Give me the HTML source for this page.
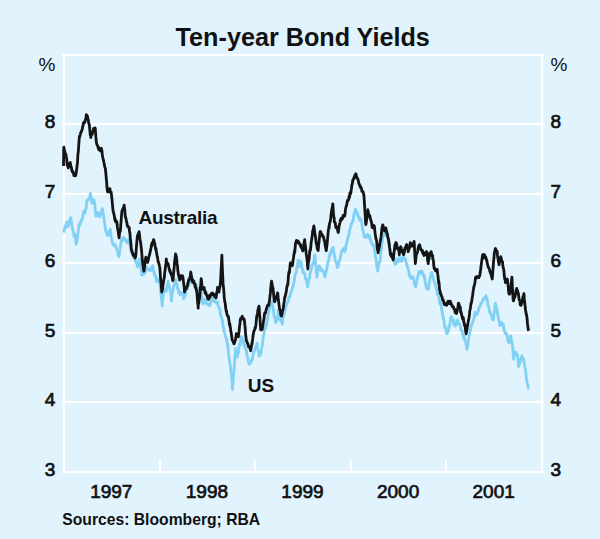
<!DOCTYPE html>
<html><head><meta charset="utf-8"><style>
html,body{margin:0;padding:0;background:#e1f3fd;}
body{width:600px;height:539px;overflow:hidden;position:relative;}
svg{position:absolute;left:0;top:0;}
text{font-family:"Liberation Sans",Arial,sans-serif;fill:#111;}
.n{stroke:#111;stroke-width:0.7px;}
</style></head><body>
<svg width="600" height="539" viewBox="0 0 600 539">
<rect x="0" y="0" width="600" height="539" fill="#e1f3fd"/>
<g fill="#fff">
<rect x="62" y="54" width="482" height="2"/>
<rect x="62" y="123" width="482" height="2"/>
<rect x="62" y="193" width="482" height="2"/>
<rect x="62" y="262" width="482" height="2"/>
<rect x="62" y="332" width="482" height="2"/>
<rect x="62" y="401" width="482" height="2"/>
<rect x="62" y="471" width="482" height="2"/>
<rect x="63" y="54" width="2" height="419"/>
<rect x="541" y="54" width="2" height="419"/>
<rect x="159" y="460" width="2" height="12"/>
<rect x="254" y="460" width="2" height="12"/>
<rect x="350" y="460" width="2" height="12"/>
<rect x="445" y="460" width="2" height="12"/>
</g>
<polyline points="63.7,232.5 63.7,232.5 64.1,230.8 64.5,229.4 64.9,226.1 65.2,228.0 65.3,228.0 65.7,227.3 66.1,224.7 66.5,223.7 66.7,222.0 66.9,223.4 67.3,223.6 67.7,225.9 68.1,226.3 68.2,226.5 68.5,225.0 68.9,222.6 69.3,221.9 69.6,220.6 69.7,220.2 70.1,219.7 70.5,217.8 70.7,217.6 70.9,218.8 71.3,220.4 71.7,224.1 71.9,225.0 72.1,226.4 72.5,228.5 72.9,230.7 73.3,231.3 73.4,232.5 73.7,233.6 74.1,236.2 74.5,234.3 74.8,235.4 74.9,234.2 75.3,236.6 75.7,241.7 76.0,244.3 76.1,243.7 76.5,242.9 76.9,241.2 77.3,238.8 77.5,237.0 77.7,236.1 78.1,232.4 78.5,230.0 78.9,225.1 79.0,225.0 79.3,223.8 79.7,223.7 80.1,224.9 80.5,222.6 80.8,222.0 80.9,220.8 81.3,219.9 81.7,220.6 82.1,219.4 82.3,219.0 82.5,219.3 82.9,214.7 83.3,214.3 83.7,211.7 83.7,213.0 84.1,210.9 84.5,211.5 84.9,212.8 85.2,211.7 85.3,211.6 85.7,209.6 86.1,208.5 86.5,204.5 86.7,201.3 86.9,201.7 87.3,200.2 87.7,200.7 88.1,199.9 88.2,199.8 88.5,199.2 88.9,198.6 89.3,198.7 89.7,197.6 89.7,196.8 90.1,195.2 90.5,193.2 90.9,196.1 90.9,195.6 91.3,198.6 91.7,202.9 91.9,202.8 92.1,203.1 92.5,201.2 92.9,201.1 93.3,200.1 93.4,199.8 93.7,199.5 94.1,200.4 94.5,204.1 94.9,204.3 94.9,205.2 95.3,209.9 95.7,214.0 95.9,216.2 96.1,215.3 96.5,215.8 96.9,214.8 97.3,213.3 97.7,212.9 97.8,213.2 98.1,212.5 98.5,213.8 98.9,215.6 99.3,214.9 99.7,217.0 100.0,216.2 100.1,215.8 100.5,214.7 100.9,212.5 101.3,211.4 101.7,210.4 102.1,208.8 102.3,208.7 102.5,209.1 102.9,211.6 103.3,214.2 103.7,216.0 103.8,219.0 104.1,219.1 104.5,222.2 104.9,225.3 105.3,226.5 105.3,227.5 105.7,231.2 106.1,231.7 106.5,232.1 106.7,232.5 106.9,235.0 107.3,233.7 107.7,235.4 108.1,234.7 108.2,235.4 108.5,234.7 108.9,231.6 109.3,232.4 109.7,231.2 110.1,229.2 110.4,229.5 110.5,231.4 110.9,234.8 111.3,237.4 111.7,239.4 111.9,241.4 112.1,241.5 112.5,242.3 112.9,243.9 113.3,245.2 113.7,244.7 114.1,245.0 114.2,245.8 114.5,245.2 114.9,244.5 115.3,245.1 115.7,246.0 116.1,247.4 116.4,247.3 116.5,249.2 116.9,249.5 117.0,250.0 117.3,251.4 117.7,251.9 118.1,255.2 118.5,255.4 118.9,256.6 119.1,256.2 119.3,254.3 119.7,250.9 120.1,248.8 120.5,245.7 120.9,243.5 121.1,242.0 121.3,240.1 121.7,240.7 122.1,239.1 122.5,240.5 122.9,238.8 123.2,237.9 123.3,239.3 123.7,237.7 124.1,238.9 124.5,238.4 124.9,238.8 125.2,240.0 125.3,239.7 125.7,240.0 126.1,240.9 126.5,242.0 126.9,242.7 127.2,242.0 127.3,242.4 127.7,240.8 128.1,240.6 128.5,241.1 128.9,239.4 129.3,242.0 129.3,241.5 129.7,243.5 130.1,245.5 130.5,248.7 130.9,251.0 131.3,252.0 131.3,252.7 131.7,252.2 132.1,253.6 132.5,254.7 132.9,254.5 133.3,256.7 133.4,256.2 133.7,257.7 134.1,256.1 134.5,257.8 134.9,257.7 135.3,260.4 135.4,260.3 135.7,262.2 136.1,261.8 136.5,262.5 136.9,264.4 137.3,265.6 137.4,266.4 137.7,266.8 138.1,265.7 138.5,263.6 138.9,262.8 139.3,259.2 139.5,260.3 139.7,261.0 140.1,264.6 140.5,266.6 140.9,268.3 141.3,271.6 141.5,272.6 141.7,274.9 142.1,274.4 142.5,273.1 142.9,275.1 143.3,273.0 143.6,274.6 143.7,274.3 144.1,272.9 144.5,273.4 144.9,271.4 145.3,272.2 145.6,270.5 145.7,271.2 146.1,268.7 146.5,267.0 146.9,267.6 147.3,269.4 147.7,268.5 147.7,268.9 148.1,269.0 148.5,268.9 148.9,270.0 149.3,270.3 149.7,270.4 150.0,270.0 150.1,269.2 150.5,270.1 150.9,270.4 151.3,267.5 151.7,269.4 152.1,268.4 152.5,266.0 152.5,266.4 152.9,266.1 153.3,269.4 153.7,271.9 154.1,272.8 154.5,275.0 154.5,273.0 154.9,275.7 155.3,275.7 155.7,276.1 156.1,279.9 156.5,278.0 156.5,281.4 156.9,281.4 157.3,280.5 157.7,281.5 158.0,281.0 158.1,279.5 158.5,281.2 158.9,281.7 159.3,281.7 159.7,281.9 159.9,284.8 160.1,285.9 160.5,290.1 160.9,294.0 161.3,298.6 161.7,301.0 162.1,303.6 162.2,306.0 162.5,300.7 162.9,297.8 163.3,295.6 163.7,291.7 164.0,289.0 164.1,289.7 164.5,288.6 164.9,289.0 165.3,289.1 165.7,288.8 166.0,291.0 166.1,291.5 166.5,290.4 166.9,287.4 167.3,285.1 167.7,283.9 168.1,282.8 168.1,281.1 168.5,284.0 168.9,284.6 169.3,286.6 169.7,287.8 170.1,291.0 170.1,289.7 170.5,291.8 170.9,294.0 171.3,297.2 171.5,300.8 171.7,297.4 172.1,294.9 172.5,292.4 172.9,291.0 173.0,289.0 173.3,289.2 173.7,286.7 174.1,285.6 174.5,283.0 174.5,282.8 174.9,283.5 175.3,282.5 175.7,279.7 175.9,280.0 176.1,281.6 176.5,284.6 176.9,283.8 177.3,286.6 177.4,289.0 177.7,288.5 178.1,288.4 178.5,289.8 178.9,293.4 178.9,291.3 179.3,292.5 179.7,292.7 180.1,294.9 180.4,292.0 180.5,293.0 180.9,294.1 181.3,293.7 181.7,293.9 181.9,293.4 182.1,293.2 182.5,292.9 182.9,294.5 183.3,297.4 183.4,297.9 183.7,298.8 184.1,297.8 184.5,296.8 184.8,295.0 184.9,294.4 185.3,294.9 185.7,294.3 186.1,291.5 186.3,290.4 186.5,290.0 186.9,287.7 187.3,288.5 187.7,287.2 187.8,286.0 188.1,285.8 188.5,285.2 188.9,284.5 189.3,283.0 189.3,283.0 189.7,281.3 190.1,280.3 190.5,279.1 190.8,281.5 190.9,280.5 191.3,282.8 191.7,279.8 192.1,279.9 192.3,280.0 192.5,280.7 192.9,280.4 193.3,281.9 193.7,283.0 193.7,281.8 194.1,284.0 194.5,283.5 194.9,284.2 195.2,284.5 195.3,285.4 195.7,285.4 196.1,284.5 196.5,285.6 196.7,287.5 196.9,287.9 197.3,288.6 197.7,289.6 198.1,289.2 198.2,290.4 198.5,289.5 198.9,289.6 199.3,288.6 199.7,287.5 199.7,289.6 200.1,289.9 200.5,290.0 200.9,290.3 201.2,293.4 201.3,294.2 201.7,296.6 202.1,300.2 202.5,302.6 202.6,302.3 202.9,303.8 203.3,303.2 203.7,300.9 204.1,299.3 204.1,300.0 204.5,301.1 204.9,299.6 205.3,301.7 205.6,300.8 205.7,302.8 206.1,303.7 206.5,303.3 206.9,304.1 207.1,303.8 207.3,303.2 207.7,304.1 208.1,304.0 208.5,304.9 208.6,305.3 208.9,304.4 209.3,304.6 209.7,305.4 210.1,303.8 210.1,303.1 210.5,303.5 210.9,300.4 211.3,298.2 211.5,300.8 211.7,299.0 212.1,299.4 212.5,299.8 212.9,297.8 213.0,299.3 213.3,298.7 213.7,299.7 214.1,301.5 214.5,300.8 214.5,301.2 214.9,302.0 215.3,301.0 215.7,301.5 216.0,302.3 216.1,301.7 216.5,303.0 216.9,302.1 217.3,302.0 217.7,303.4 217.9,303.6 218.1,306.0 218.5,306.6 218.9,307.5 219.3,307.9 219.7,310.1 219.9,309.5 220.1,311.6 220.5,314.9 220.9,316.1 221.3,316.4 221.7,318.0 221.8,319.2 222.1,319.3 222.5,320.7 222.9,324.9 223.3,327.5 223.7,327.8 223.8,329.0 224.1,331.6 224.5,332.8 224.9,333.0 225.3,335.3 225.7,336.8 225.7,336.8 226.1,338.0 226.5,338.4 226.9,341.5 227.3,344.3 227.7,346.5 227.7,343.8 228.1,349.0 228.5,353.2 228.9,355.9 229.3,359.5 229.6,362.0 229.7,362.4 230.1,364.5 230.5,367.4 230.9,371.9 231.3,372.7 231.6,375.8 231.7,377.1 232.1,383.4 232.5,389.4 232.5,388.7 232.9,383.6 233.3,377.6 233.7,372.7 233.9,371.9 234.1,368.1 234.5,363.0 234.9,356.3 235.3,354.0 235.5,348.5 235.7,350.0 236.1,351.5 236.5,352.6 236.9,353.9 237.3,357.0 237.4,356.3 237.7,354.6 238.1,353.6 238.5,351.7 238.9,347.4 239.3,346.2 239.4,344.6 239.7,343.5 240.1,345.1 240.5,342.1 240.9,339.5 241.3,338.7 241.3,336.6 241.7,337.1 242.1,338.5 242.5,339.2 242.9,339.7 243.3,342.6 243.3,340.8 243.7,342.7 244.1,346.0 244.5,345.1 244.9,346.4 245.2,348.5 245.3,347.3 245.7,348.2 246.1,349.6 246.5,351.5 246.9,354.8 247.2,356.3 247.3,356.3 247.7,357.6 248.1,360.2 248.5,362.0 248.9,363.2 249.1,364.0 249.3,364.2 249.7,362.8 250.1,363.3 250.5,363.2 250.9,362.1 251.1,362.0 251.3,359.9 251.7,360.4 252.1,358.4 252.5,359.5 252.9,355.6 253.3,354.3 253.4,352.5 253.7,352.2 254.1,351.5 254.5,351.4 254.9,349.3 255.3,348.8 255.3,348.6 255.7,347.6 256.1,346.4 256.5,345.7 256.9,345.2 257.1,343.2 257.3,346.1 257.7,348.3 258.1,350.2 258.5,351.7 258.9,354.3 259.0,356.2 259.3,354.7 259.7,355.6 260.1,354.8 260.5,353.3 260.8,354.4 260.9,353.7 261.3,350.6 261.7,347.9 262.1,345.9 262.5,344.4 262.7,343.2 262.9,339.4 263.3,336.6 263.7,335.1 264.1,332.3 264.5,330.3 264.5,329.0 264.9,327.9 265.3,328.7 265.7,326.7 266.1,326.3 266.4,324.7 266.5,325.3 266.9,322.2 267.3,320.6 267.7,317.8 268.1,315.2 268.2,315.4 268.5,312.4 268.9,312.1 269.3,309.6 269.7,307.3 270.1,306.0 270.1,304.5 270.5,306.3 270.9,305.7 271.3,304.1 271.7,302.4 271.9,302.4 272.1,301.8 272.5,305.3 272.9,308.2 273.3,309.2 273.7,313.4 273.8,313.5 274.1,316.0 274.5,316.5 274.9,318.1 275.3,320.0 275.7,322.8 275.7,322.6 276.1,321.3 276.5,318.6 276.9,319.7 277.3,318.5 277.5,317.3 277.7,316.7 278.1,312.9 278.2,309.8 278.5,312.1 278.9,314.1 279.3,316.5 279.7,318.8 280.1,320.0 280.2,320.0 280.5,320.2 280.9,321.3 281.3,321.3 281.7,322.0 282.1,321.3 282.2,324.0 282.5,321.1 282.9,318.3 283.3,316.2 283.7,314.6 284.1,312.9 284.3,311.8 284.5,313.1 284.9,311.1 285.3,307.9 285.7,307.2 286.1,305.6 286.3,305.7 286.5,305.3 286.9,303.9 287.3,302.7 287.7,301.9 288.1,301.0 288.4,301.6 288.5,298.8 288.9,297.7 289.3,297.0 289.7,297.1 290.1,294.8 290.4,293.5 290.5,292.9 290.9,292.4 291.3,291.5 291.7,291.4 292.1,289.8 292.4,287.3 292.5,287.7 292.9,287.1 293.3,286.2 293.7,283.0 294.1,281.3 294.5,279.2 294.5,277.8 294.9,276.5 295.3,274.5 295.7,273.4 296.1,271.7 296.5,271.0 296.5,270.4 296.9,268.0 297.3,266.1 297.7,263.6 298.1,260.3 298.2,260.0 298.5,259.9 298.9,263.7 299.3,266.7 299.5,266.0 299.7,265.9 300.1,265.4 300.5,262.5 300.8,263.0 300.9,261.3 301.3,263.7 301.7,267.5 302.1,267.7 302.5,268.8 302.9,272.6 303.0,272.0 303.3,270.9 303.7,272.7 304.1,273.6 304.5,273.5 304.9,274.1 305.0,274.0 305.3,278.3 305.7,277.9 306.1,279.5 306.5,281.5 306.9,283.0 307.3,284.2 307.5,287.0 307.7,286.8 308.1,284.9 308.5,281.0 308.9,279.3 309.3,278.6 309.5,278.0 309.7,277.2 310.1,273.5 310.5,271.9 310.8,271.0 310.9,270.5 311.3,269.4 311.7,268.1 312.1,264.4 312.5,265.5 312.9,262.9 312.9,263.6 313.3,263.4 313.7,263.6 314.1,259.8 314.5,256.0 314.9,254.7 314.9,255.4 315.3,259.3 315.7,263.3 316.1,266.9 316.5,273.7 316.9,277.1 316.9,277.2 317.3,273.8 317.7,272.1 318.1,269.6 318.5,268.7 318.9,266.7 319.0,267.0 319.3,265.9 319.7,267.6 320.1,267.4 320.5,268.9 320.9,270.3 321.0,269.0 321.3,269.6 321.7,269.2 322.1,270.0 322.5,271.3 322.9,271.2 323.1,271.0 323.3,272.0 323.7,273.0 324.1,274.4 324.5,276.1 324.9,276.2 325.1,277.1 325.3,275.5 325.7,273.8 326.1,271.2 326.5,269.8 326.9,268.4 327.1,267.0 327.3,266.2 327.7,263.5 328.1,261.1 328.5,261.4 328.9,259.7 329.2,256.7 329.3,256.0 329.7,254.1 330.1,255.2 330.5,254.8 330.9,252.6 331.1,250.7 331.3,252.3 331.7,249.5 332.1,249.4 332.5,250.0 332.9,247.4 333.2,248.7 333.3,247.6 333.7,251.3 334.1,254.4 334.5,255.3 334.9,257.6 335.2,258.9 335.3,261.0 335.7,261.4 336.1,261.5 336.5,263.6 336.9,265.1 337.2,267.0 337.3,267.7 337.7,266.2 338.1,263.9 338.5,265.4 338.9,262.6 339.3,260.9 339.3,261.7 339.7,260.3 340.1,259.0 340.5,256.9 340.9,255.4 341.3,252.8 341.3,253.2 341.7,250.8 342.1,250.4 342.5,249.8 342.9,249.2 343.3,248.8 343.4,248.7 343.7,248.3 344.1,250.4 344.5,251.9 344.9,249.0 345.3,250.0 345.4,250.7 345.7,248.2 346.1,244.0 346.5,243.9 346.9,241.9 347.3,240.0 347.4,240.5 347.7,237.9 348.1,237.6 348.5,236.7 348.9,234.2 349.3,232.5 349.5,230.3 349.7,230.2 350.1,228.9 350.5,226.7 350.9,225.8 351.3,224.0 351.5,224.2 351.7,223.4 352.1,222.7 352.5,221.0 352.9,220.3 353.3,220.6 353.6,216.0 353.7,215.3 354.1,214.3 354.5,212.6 354.9,211.3 355.3,209.1 355.6,209.9 355.7,209.4 356.1,210.7 356.5,211.5 356.9,212.9 357.3,213.9 357.7,216.0 357.7,213.2 358.1,216.5 358.5,217.2 358.9,217.3 359.3,219.0 359.7,220.1 359.7,219.3 360.1,217.9 360.5,220.5 360.9,219.4 361.3,220.5 361.7,222.1 361.7,221.6 362.1,225.6 362.5,228.5 362.9,230.2 363.3,231.2 363.7,233.3 363.8,234.4 364.1,235.5 364.5,237.3 364.9,237.1 365.3,236.1 365.7,237.4 365.8,236.4 366.1,236.3 366.5,235.4 366.9,234.9 367.3,235.3 367.7,235.1 367.9,234.4 368.1,236.0 368.5,237.5 368.9,237.9 369.3,235.7 369.7,235.6 369.9,238.5 370.1,237.8 370.5,239.1 370.9,242.4 371.3,242.2 371.7,242.4 371.9,242.5 372.1,244.0 372.5,245.3 372.9,245.0 373.3,246.0 373.7,245.3 374.0,246.6 374.1,245.9 374.5,250.2 374.9,251.0 375.3,255.0 375.7,257.9 376.0,258.9 376.1,260.8 376.5,264.0 376.9,266.7 377.3,266.7 377.7,271.1 377.7,269.4 378.1,267.3 378.5,266.6 378.9,263.1 379.1,263.0 379.3,261.6 379.7,261.4 380.0,262.0 380.1,261.8 380.5,256.1 380.9,251.3 381.3,249.0 381.5,247.3 381.7,243.6 382.1,242.3 382.5,239.5 382.9,235.6 383.0,236.9 383.3,234.9 383.7,233.8 384.1,234.0 384.5,233.9 384.5,233.9 384.9,235.4 385.3,234.6 385.7,234.4 385.9,233.9 386.1,233.6 386.5,233.7 386.9,234.9 387.3,232.5 387.4,233.9 387.7,235.6 388.1,237.5 388.5,240.2 388.9,242.8 388.9,243.0 389.3,246.1 389.7,248.3 390.1,249.9 390.4,251.7 390.5,252.2 390.9,252.9 391.3,253.4 391.7,254.4 391.9,254.7 392.1,256.2 392.5,257.1 392.9,258.1 393.3,257.7 393.4,259.1 393.7,259.4 394.1,259.2 394.5,262.3 394.8,263.6 394.9,262.2 395.3,262.8 395.7,264.3 396.1,261.0 396.3,259.1 396.5,261.5 396.9,261.6 397.3,261.2 397.7,261.0 397.8,262.0 398.1,261.3 398.5,261.4 398.9,259.9 399.3,257.6 399.3,256.6 399.7,256.9 400.1,258.2 400.5,260.9 400.8,260.6 400.9,261.2 401.3,260.8 401.7,261.3 402.1,259.9 402.3,259.1 402.5,259.1 402.9,258.4 403.3,256.2 403.7,257.6 403.7,257.2 404.1,258.2 404.5,259.5 404.9,258.1 405.2,259.1 405.3,258.3 405.7,261.0 406.1,262.3 406.5,264.6 406.7,263.6 406.9,264.3 407.3,266.1 407.7,266.9 408.1,269.1 408.2,269.5 408.5,270.2 408.9,272.6 409.3,275.1 409.7,275.4 409.7,276.7 410.1,275.0 410.5,277.4 410.9,278.4 411.2,278.4 411.3,277.6 411.7,276.6 412.1,276.8 412.5,277.3 412.6,276.9 412.9,277.5 413.3,277.2 413.7,279.6 414.1,281.4 414.1,281.3 414.5,284.5 414.9,282.8 415.3,286.2 415.6,284.3 415.7,286.9 416.1,284.1 416.5,283.3 416.9,280.6 417.1,278.4 417.3,279.5 417.7,276.7 418.1,275.6 418.5,273.3 418.6,274.0 418.9,271.6 419.3,272.0 419.7,271.6 420.1,272.5 420.1,272.4 420.5,273.3 420.9,272.1 421.3,271.5 421.5,271.0 421.7,271.9 422.1,271.2 422.5,273.4 422.9,274.9 423.0,275.4 423.3,275.8 423.7,275.6 424.1,275.0 424.5,278.4 424.5,276.9 424.9,279.5 425.3,282.7 425.7,284.8 426.0,284.3 426.1,286.9 426.5,287.3 426.9,288.9 427.3,289.0 427.5,288.8 427.7,289.2 428.1,288.4 428.5,289.2 428.9,286.5 429.0,284.3 429.3,282.4 429.7,281.8 430.1,278.3 430.4,276.9 430.5,276.5 430.9,275.1 431.3,273.2 431.7,273.9 431.9,272.5 432.1,274.3 432.5,274.7 432.9,276.4 433.3,277.6 433.4,278.4 433.7,280.0 434.1,281.0 434.5,281.9 434.9,284.3 434.9,283.2 435.3,284.5 435.7,286.5 436.1,286.9 436.4,288.8 436.5,288.5 436.9,290.4 437.3,293.8 437.7,294.7 437.9,293.2 438.1,292.3 438.5,294.9 438.9,297.4 439.3,300.7 439.3,300.4 439.7,303.2 440.1,304.2 440.5,302.2 440.9,304.3 441.1,305.3 441.3,306.3 441.7,309.2 442.1,312.7 442.5,313.2 442.9,316.8 443.2,317.6 443.3,316.9 443.7,319.6 444.1,322.3 444.5,326.6 444.9,326.7 445.2,327.8 445.3,326.6 445.7,329.3 446.1,329.9 446.5,333.0 446.9,332.9 447.2,333.9 447.3,332.6 447.7,332.7 448.1,330.9 448.5,330.1 448.9,326.5 449.3,325.7 449.3,326.9 449.7,324.1 450.1,323.3 450.5,320.3 450.9,317.4 451.3,317.6 451.3,316.4 451.7,317.6 452.1,319.7 452.5,319.8 452.9,320.4 453.3,320.8 453.4,319.6 453.7,324.3 454.1,322.8 454.5,324.7 454.9,324.9 455.3,326.0 455.4,325.7 455.7,324.9 456.1,325.3 456.5,322.7 456.9,320.9 457.3,320.8 457.4,321.6 457.7,320.2 458.1,322.2 458.5,323.6 458.9,322.8 459.3,324.1 459.5,323.7 459.7,324.0 460.1,325.3 460.5,326.6 460.9,329.8 461.3,330.1 461.5,329.8 461.7,330.1 462.1,331.0 462.5,334.3 462.9,333.9 463.3,335.7 463.6,338.0 463.7,337.2 464.1,336.1 464.5,337.9 464.9,340.6 465.3,341.6 465.6,342.0 465.7,341.6 466.1,344.2 466.5,346.2 466.9,349.4 467.2,348.2 467.3,348.0 467.7,344.6 468.1,342.0 468.5,339.2 468.7,338.0 468.9,337.2 469.3,335.4 469.7,333.2 470.1,330.3 470.5,329.1 470.7,329.8 470.9,326.9 471.3,325.3 471.7,324.3 472.1,324.0 472.5,323.5 472.8,321.6 472.9,320.6 473.3,320.0 473.7,319.6 474.1,318.0 474.5,314.9 474.8,315.5 474.9,312.5 475.3,314.3 475.7,315.2 476.1,314.7 476.5,313.0 476.8,313.5 476.9,314.3 477.3,314.2 477.7,312.5 478.1,311.1 478.5,308.3 478.9,309.4 478.9,309.2 479.3,306.4 479.7,306.7 480.1,306.3 480.5,304.9 480.9,303.3 480.9,305.0 481.3,303.0 481.7,302.6 482.1,302.1 482.5,301.0 482.9,299.4 483.0,299.2 483.3,300.1 483.7,299.5 484.1,298.3 484.5,297.6 484.9,297.3 485.0,297.1 485.3,298.9 485.7,297.2 485.9,295.7 486.1,297.0 486.5,297.7 486.9,298.9 487.3,299.8 487.7,303.3 487.8,305.0 488.1,305.6 488.5,306.5 488.9,307.3 489.3,309.7 489.6,312.4 489.7,311.3 490.1,311.4 490.5,313.4 490.9,314.7 491.3,315.5 491.5,316.1 491.7,317.2 492.1,317.0 492.5,319.3 492.9,318.5 493.3,319.8 493.3,320.1 493.7,317.4 494.1,313.6 494.5,310.8 494.9,306.2 495.2,305.0 495.3,303.2 495.7,305.2 496.1,306.2 496.5,308.6 496.9,309.8 497.1,310.5 497.3,312.3 497.7,314.7 497.8,314.8 498.1,316.8 498.5,318.7 498.9,320.2 499.3,321.9 499.6,324.1 499.7,325.7 500.1,322.7 500.5,322.6 500.9,323.5 501.3,323.2 501.5,322.3 501.7,324.4 502.1,324.9 502.5,323.7 502.9,324.5 503.3,326.0 503.3,324.2 503.7,327.6 504.1,330.6 504.5,330.9 504.9,332.9 505.2,333.4 505.3,333.5 505.7,332.8 506.1,333.9 506.5,333.7 506.9,335.0 507.1,337.1 507.3,337.0 507.7,339.3 508.1,341.6 508.5,341.8 508.9,342.7 508.9,343.1 509.3,342.1 509.7,341.1 510.1,336.7 510.5,335.9 510.8,337.1 510.9,337.3 511.3,338.4 511.7,341.3 512.1,344.4 512.5,344.2 512.6,346.4 512.9,349.2 513.3,355.1 513.6,359.4 513.7,358.8 514.1,355.7 514.5,355.1 514.9,353.2 515.3,352.7 515.4,352.0 515.7,353.1 516.1,353.0 516.5,354.1 516.9,354.1 517.3,355.7 517.3,354.6 517.7,356.9 518.1,361.1 518.5,366.0 518.6,366.8 518.9,366.1 519.3,364.9 519.7,363.2 520.0,363.1 520.1,361.7 520.5,361.3 520.9,358.1 521.3,359.3 521.7,356.9 521.9,355.7 522.1,358.4 522.5,359.1 522.9,358.3 523.3,359.4 523.7,359.8 523.8,359.4 524.1,362.2 524.5,365.3 524.9,367.0 525.3,369.1 525.6,372.0 525.7,372.0 526.1,374.5 526.5,380.0 526.5,378.7 526.9,381.1 527.3,383.1 527.5,384.0 527.7,384.8 528.1,386.0 528.5,388.5 528.6,388.5" fill="none" stroke="#82d1f5" stroke-width="2.8" stroke-linejoin="round"/>
<polyline points="63.5,166.0 63.5,166.0 63.7,149.0 63.9,147.1 64.3,150.0 64.7,151.2 65.1,152.5 65.5,154.0 65.6,155.0 65.9,154.1 66.3,157.0 66.7,158.7 67.1,164.8 67.5,165.6 67.9,166.5 68.3,167.9 68.3,168.0 68.7,166.1 69.1,164.3 69.5,163.4 69.9,163.3 70.2,162.5 70.3,162.6 70.7,165.4 71.1,166.5 71.5,168.0 71.9,171.2 72.0,170.0 72.3,171.9 72.7,171.4 73.1,171.9 73.5,173.2 73.9,175.6 74.0,173.6 74.3,174.7 74.7,174.5 75.1,175.8 75.5,174.8 75.8,175.5 75.9,174.2 76.3,172.0 76.7,169.0 77.1,165.4 77.5,162.5 77.6,160.7 77.9,154.6 78.3,151.8 78.7,145.9 79.1,139.8 79.5,136.2 79.5,137.0 79.9,136.2 80.3,134.5 80.7,132.4 81.1,132.0 81.3,132.0 81.5,130.8 81.9,130.5 82.3,128.9 82.7,126.6 83.1,125.5 83.2,123.5 83.5,123.8 83.9,122.2 84.3,122.7 84.7,122.7 85.0,121.7 85.1,121.5 85.5,119.3 85.9,118.5 86.3,114.7 86.7,115.3 86.9,115.2 87.1,116.3 87.5,116.3 87.9,118.9 88.3,120.0 88.7,123.2 88.8,123.5 89.1,123.6 89.5,126.5 89.9,131.0 90.3,135.0 90.7,135.2 90.8,137.5 91.1,135.3 91.5,135.1 91.9,133.5 92.3,134.3 92.7,131.4 93.1,130.9 93.5,128.6 93.9,129.4 93.9,128.5 94.3,129.3 94.7,129.1 95.1,127.9 95.4,130.0 95.5,132.0 95.9,137.4 96.2,140.0 96.3,141.8 96.7,143.9 97.1,145.1 97.5,145.5 97.9,146.5 98.0,147.7 98.3,146.9 98.7,149.5 99.1,148.2 99.5,148.8 99.9,149.6 99.9,150.5 100.3,150.3 100.7,151.0 101.1,149.5 101.5,148.3 101.7,150.5 101.9,150.5 102.3,154.4 102.7,157.0 103.1,158.8 103.5,160.2 103.6,160.7 103.9,162.5 104.3,164.0 104.7,166.9 105.1,167.6 105.5,169.9 105.5,170.0 105.9,174.0 106.3,178.7 106.7,182.8 107.1,189.2 107.3,188.5 107.5,191.6 107.9,192.0 108.3,188.9 108.7,189.2 109.1,189.3 109.2,190.3 109.5,190.7 109.9,188.7 110.3,191.4 110.7,192.8 111.0,192.0 111.1,192.1 111.5,195.1 111.9,198.5 112.3,202.8 112.7,207.3 112.7,207.0 113.1,211.2 113.5,211.9 113.9,214.2 114.3,215.8 114.7,219.1 114.9,218.0 115.1,220.3 115.5,221.7 115.9,220.4 116.3,221.2 116.7,221.4 117.0,223.0 117.1,224.8 117.5,227.7 117.9,229.7 118.3,231.9 118.7,235.4 119.1,237.4 119.1,237.9 119.5,233.6 119.9,231.6 120.3,231.1 120.7,226.6 120.7,225.6 121.1,221.4 121.5,216.0 121.9,211.1 122.1,211.0 122.3,210.0 122.7,210.0 123.1,208.6 123.5,207.6 123.9,206.4 124.2,205.2 124.3,206.6 124.7,209.2 125.1,213.8 125.2,216.0 125.5,217.0 125.9,218.3 126.3,220.3 126.7,221.9 127.1,224.1 127.2,225.6 127.5,226.3 127.9,226.1 128.3,226.4 128.7,227.8 129.1,228.5 129.3,227.7 129.5,231.9 129.9,232.8 130.3,238.2 130.7,241.6 131.1,246.0 131.3,248.0 131.5,249.4 131.9,251.2 132.3,252.6 132.7,253.0 133.1,255.3 133.4,254.0 133.5,254.9 133.9,254.8 134.3,255.9 134.7,255.3 135.1,258.0 135.4,256.2 135.5,257.3 135.9,254.3 136.3,248.6 136.7,243.3 137.1,239.2 137.4,235.8 137.5,236.5 137.9,234.5 138.3,233.9 138.7,232.8 139.1,233.4 139.1,231.7 139.5,234.8 139.9,238.7 140.3,240.5 140.5,242.0 140.7,242.9 141.1,246.6 141.5,249.9 141.9,254.8 142.3,260.1 142.6,262.3 142.7,263.4 143.1,266.1 143.5,269.6 143.9,271.2 144.0,270.5 144.3,269.1 144.7,265.3 145.1,260.6 145.5,259.1 145.6,258.3 145.9,257.1 146.3,259.4 146.7,260.3 147.1,262.2 147.5,262.4 147.7,262.3 147.9,260.9 148.3,259.9 148.7,257.7 149.1,256.2 149.5,254.8 149.7,254.2 149.9,253.2 150.3,251.4 150.7,249.1 151.1,247.8 151.5,244.3 151.7,246.0 151.9,244.0 152.3,242.4 152.7,243.3 153.1,243.4 153.5,239.6 153.8,240.0 153.9,240.0 154.3,242.1 154.7,243.3 155.1,246.4 155.5,248.0 155.8,250.0 155.9,248.5 156.3,251.2 156.7,253.6 157.1,256.1 157.5,257.0 157.9,260.2 157.9,260.3 158.3,262.6 158.7,262.8 159.1,264.2 159.5,266.3 159.9,267.6 159.9,268.5 160.3,275.0 160.7,279.8 161.1,283.6 161.5,288.3 161.7,292.0 161.9,290.2 162.3,290.5 162.7,287.0 163.1,284.4 163.5,282.4 163.6,281.0 163.9,279.0 164.3,277.9 164.7,272.9 165.1,270.1 165.5,266.6 165.9,263.7 166.3,258.8 166.3,259.5 166.7,262.1 167.1,262.5 167.5,263.4 167.9,263.5 168.3,264.3 168.5,266.0 168.7,266.6 169.1,268.7 169.5,270.1 169.9,271.8 170.1,270.5 170.3,272.6 170.7,272.8 171.1,274.3 171.5,275.2 171.5,274.0 171.9,276.1 172.3,278.2 172.7,280.6 173.0,280.0 173.1,279.9 173.5,274.2 173.9,270.0 174.3,266.7 174.5,262.0 174.7,261.5 175.1,258.0 175.5,254.8 175.6,254.0 175.9,256.7 176.3,256.2 176.7,259.1 176.7,259.3 177.1,263.9 177.5,266.1 177.9,271.3 178.2,272.6 178.3,274.3 178.7,275.3 179.1,277.6 179.5,278.1 179.6,280.0 179.9,277.8 180.3,279.1 180.7,276.5 181.1,277.3 181.1,275.6 181.5,276.4 181.9,277.0 182.2,275.6 182.3,276.8 182.7,276.2 183.1,278.5 183.4,281.5 183.5,281.9 183.9,284.8 184.3,288.0 184.5,292.0 184.7,291.0 185.1,290.0 185.5,288.1 185.9,287.9 186.3,289.0 186.3,289.0 186.7,286.9 187.1,286.5 187.5,286.1 187.8,283.0 187.9,283.8 188.3,281.4 188.7,279.6 189.1,279.6 189.3,280.0 189.5,279.4 189.9,277.3 190.3,275.5 190.7,272.5 190.8,272.0 191.1,274.2 191.5,276.1 191.9,278.5 192.3,280.0 192.3,281.5 192.7,279.6 193.1,280.7 193.5,280.9 193.7,283.0 193.9,281.3 194.3,283.3 194.7,283.7 195.1,287.2 195.2,284.5 195.5,288.0 195.9,287.8 196.3,289.9 196.7,291.3 196.7,290.4 197.1,294.9 197.5,300.9 197.9,304.4 198.2,308.2 198.3,304.2 198.7,303.5 199.1,300.1 199.5,298.9 199.7,296.4 199.9,293.9 200.3,288.0 200.7,285.5 201.1,279.2 201.2,278.6 201.5,280.7 201.9,285.2 202.3,287.6 202.6,289.0 202.7,289.2 203.1,288.8 203.5,289.1 203.9,287.4 204.1,287.5 204.3,288.6 204.7,290.1 205.1,293.2 205.5,292.7 205.6,292.0 205.9,292.5 206.3,294.6 206.7,295.1 207.1,296.6 207.1,296.4 207.5,297.4 207.9,299.2 208.3,298.7 208.6,299.3 208.7,299.0 209.1,295.7 209.5,295.4 209.9,297.2 210.1,296.4 210.3,295.7 210.7,294.9 211.1,293.7 211.5,294.7 211.5,295.0 211.9,294.6 212.3,293.0 212.7,293.8 213.0,293.4 213.1,293.8 213.5,294.8 213.9,294.2 214.3,296.4 214.5,295.0 214.7,296.6 215.1,296.7 215.5,296.7 215.9,297.3 216.0,297.9 216.3,296.5 216.7,293.1 217.1,291.4 217.5,288.6 217.5,287.5 217.9,290.6 218.3,291.7 218.7,291.9 219.0,292.0 219.1,289.9 219.5,288.3 219.9,286.8 220.3,284.1 220.4,283.0 220.7,278.4 221.1,270.5 221.5,263.0 221.9,255.1 221.9,256.3 222.3,266.5 222.7,275.7 223.1,284.3 223.1,284.5 223.5,287.2 223.9,291.9 224.3,297.9 224.6,300.0 224.7,301.5 225.1,302.5 225.5,306.3 225.9,309.2 226.3,311.4 226.6,311.0 226.7,313.1 227.1,314.6 227.5,315.4 227.9,316.7 228.3,316.4 228.6,317.3 228.7,319.4 229.1,321.2 229.5,325.1 229.9,324.1 230.3,327.6 230.6,329.0 230.7,330.8 231.1,332.3 231.5,335.1 231.9,338.0 232.3,340.6 232.5,340.7 232.7,340.9 233.1,341.1 233.5,342.6 233.9,343.8 234.3,343.4 234.5,342.6 234.7,342.3 235.1,340.6 235.5,339.8 235.9,336.4 236.3,333.7 236.4,334.8 236.7,334.5 237.1,334.1 237.5,334.6 237.9,335.7 238.3,336.9 238.4,336.8 238.7,333.4 239.1,331.4 239.5,326.2 239.9,324.2 240.3,319.5 240.3,321.2 240.7,318.3 241.1,319.2 241.5,318.2 241.9,317.0 242.3,316.3 242.3,317.3 242.7,317.7 243.1,318.0 243.5,318.4 243.9,319.9 244.2,319.2 244.3,320.0 244.7,323.5 245.1,327.2 245.5,332.6 245.9,337.1 246.2,338.7 246.3,341.0 246.7,341.2 247.1,341.8 247.5,343.7 247.9,344.1 248.1,344.6 248.3,345.9 248.7,346.9 249.1,346.4 249.5,347.2 249.9,347.9 250.1,348.5 250.3,349.7 250.7,350.7 251.1,348.1 251.5,346.4 251.9,342.9 252.0,344.6 252.3,341.6 252.7,338.9 253.1,335.0 253.4,334.0 253.5,333.9 253.9,331.0 254.3,330.4 254.7,329.8 255.1,327.6 255.3,328.4 255.5,327.1 255.9,325.2 256.3,320.4 256.7,316.5 257.1,315.1 257.1,315.4 257.5,313.3 257.9,310.2 258.3,308.6 258.7,307.0 259.0,306.1 259.1,306.9 259.5,312.9 259.9,317.9 260.3,324.3 260.7,329.6 260.8,328.4 261.1,330.0 261.5,329.7 261.9,329.6 262.3,328.8 262.7,326.2 262.7,326.5 263.1,324.3 263.5,321.2 263.9,319.7 264.3,316.0 264.5,313.5 264.7,314.0 265.1,312.8 265.5,313.0 265.9,311.0 266.3,309.1 266.7,308.2 267.1,306.4 267.3,306.1 267.5,305.8 267.9,305.0 268.3,304.4 268.7,305.4 269.1,303.2 269.2,302.4 269.5,300.4 269.9,296.8 270.0,296.0 270.3,293.9 270.7,288.7 271.1,284.7 271.5,281.5 271.6,281.2 271.9,283.1 272.3,285.1 272.7,286.8 273.1,288.3 273.1,289.4 273.5,292.8 273.9,297.8 274.3,300.9 274.5,301.6 274.7,301.8 275.1,300.9 275.5,298.6 275.9,297.5 276.1,297.6 276.3,296.6 276.7,296.2 277.1,295.2 277.5,293.0 277.8,293.5 277.9,294.9 278.3,299.8 278.7,302.1 279.1,305.6 279.2,305.7 279.5,307.9 279.9,310.4 280.3,310.4 280.7,314.6 281.1,315.6 281.2,316.0 281.5,316.1 281.9,314.0 282.3,311.7 282.7,310.0 283.1,309.4 283.3,307.8 283.5,306.1 283.9,303.5 284.3,300.9 284.7,297.1 285.1,297.0 285.3,295.5 285.5,295.2 285.9,292.8 286.3,291.7 286.7,288.1 287.1,286.1 287.3,285.3 287.5,285.7 287.9,283.6 288.3,278.1 288.7,273.1 289.1,271.7 289.4,273.0 289.5,271.5 289.9,267.2 290.3,263.3 290.4,262.9 290.7,263.5 291.1,262.9 291.5,263.9 291.9,265.2 292.3,265.7 292.4,265.0 292.7,263.8 293.1,260.0 293.5,257.9 293.9,254.5 294.3,253.2 294.5,250.6 294.7,252.7 295.1,248.4 295.5,243.7 295.9,242.2 296.3,241.1 296.5,240.4 296.7,241.5 297.1,242.5 297.5,241.3 297.9,240.9 298.3,243.0 298.6,242.4 298.7,241.8 299.1,243.7 299.5,243.5 299.9,244.6 300.3,245.3 300.6,244.5 300.7,246.1 301.1,247.4 301.5,246.9 301.9,248.5 302.3,249.5 302.7,251.0 302.7,250.6 303.1,250.0 303.5,247.0 303.9,244.0 304.3,241.5 304.7,239.6 304.7,240.4 305.1,244.0 305.5,246.3 305.9,251.0 306.3,254.2 306.7,256.8 306.7,256.7 307.1,259.9 307.5,265.3 307.8,269.0 307.9,268.6 308.3,262.9 308.7,261.2 309.1,258.9 309.5,254.6 309.8,250.6 309.9,251.1 310.3,250.5 310.7,247.8 311.1,243.1 311.5,240.4 311.8,238.4 311.9,237.8 312.3,235.3 312.7,230.7 313.1,230.3 313.5,227.6 313.9,225.8 313.9,226.1 314.3,228.7 314.7,232.6 315.1,234.8 315.5,236.8 315.9,240.6 315.9,240.4 316.3,243.8 316.7,244.7 317.1,247.8 317.5,249.2 317.9,250.1 318.0,250.6 318.3,249.4 318.7,244.1 319.1,241.5 319.5,236.8 319.9,233.6 320.0,232.2 320.3,231.5 320.7,231.6 321.1,233.7 321.5,234.2 321.9,234.4 322.0,234.3 322.3,234.8 322.7,236.6 323.1,236.2 323.5,236.9 323.9,238.8 324.1,240.4 324.3,240.1 324.7,242.1 325.1,244.7 325.5,247.0 325.9,249.1 326.1,250.6 326.3,250.3 326.7,247.1 327.1,243.9 327.5,239.4 327.9,234.8 328.2,232.2 328.3,230.3 328.7,229.0 329.1,225.7 329.1,228.3 329.5,223.5 329.9,222.4 330.3,221.2 330.7,218.6 331.1,214.0 331.1,214.0 331.5,212.1 331.9,208.7 332.3,207.4 332.7,204.6 332.8,203.8 333.1,207.8 333.5,213.9 333.9,217.4 334.2,218.0 334.3,222.0 334.7,222.0 335.1,222.3 335.5,225.0 335.9,227.5 336.2,226.2 336.3,227.2 336.7,228.1 337.1,227.6 337.5,229.2 337.9,231.6 338.3,232.5 338.3,232.3 338.7,229.4 339.1,225.8 339.5,224.5 339.9,223.1 340.3,221.0 340.3,220.1 340.7,220.4 341.1,218.3 341.5,220.1 341.9,219.0 342.3,218.2 342.3,218.0 342.7,218.4 343.1,215.5 343.5,215.9 343.9,215.9 344.3,216.2 344.4,216.0 344.7,215.9 345.1,213.6 345.5,209.1 345.9,207.4 346.3,206.0 346.4,205.8 346.7,204.9 347.1,202.5 347.5,200.3 347.9,200.8 348.3,200.3 348.5,199.7 348.7,199.1 349.1,196.1 349.5,197.6 349.9,193.0 350.3,192.6 350.5,193.6 350.7,193.7 351.1,190.6 351.5,188.2 351.9,184.5 352.3,183.9 352.6,181.3 352.7,180.2 353.1,180.1 353.5,179.5 353.9,177.6 354.3,178.2 354.6,177.2 354.7,175.8 355.1,174.8 355.5,174.6 355.9,173.7 356.0,174.2 356.3,175.2 356.7,177.3 357.1,177.7 357.5,178.3 357.7,179.3 357.9,179.2 358.3,180.4 358.7,182.8 359.1,183.6 359.5,185.2 359.7,185.4 359.9,185.9 360.3,185.8 360.7,187.9 361.1,187.5 361.5,188.7 361.7,189.5 361.9,191.4 362.3,190.8 362.7,192.1 363.1,191.8 363.5,193.4 363.8,195.6 363.9,194.8 364.3,201.3 364.7,207.2 364.8,209.9 365.1,213.7 365.5,221.2 365.8,224.2 365.9,224.6 366.3,222.4 366.7,219.4 367.1,216.6 367.5,213.4 367.9,209.7 367.9,211.9 368.3,211.7 368.7,214.6 369.1,215.4 369.5,215.2 369.9,217.6 369.9,216.0 370.3,218.4 370.7,219.7 371.1,220.7 371.5,222.5 371.9,225.1 371.9,226.2 372.3,227.7 372.7,226.7 373.1,225.4 373.5,225.2 373.9,225.5 374.0,226.2 374.3,226.0 374.7,229.6 375.1,233.2 375.5,235.9 375.9,238.7 376.0,238.5 376.3,239.7 376.7,241.1 377.1,246.2 377.5,249.9 377.9,250.5 378.1,252.8 378.3,251.5 378.7,249.6 379.1,248.1 379.5,246.0 379.9,243.3 380.1,242.5 380.3,241.3 380.7,239.0 381.1,236.4 381.5,232.1 381.5,233.9 381.9,228.0 382.3,227.2 382.7,225.0 383.0,226.5 383.1,225.5 383.5,228.1 383.9,229.5 384.3,230.2 384.5,231.0 384.7,230.5 385.1,230.9 385.5,228.7 385.9,228.8 385.9,228.0 386.3,230.7 386.7,232.0 387.1,234.6 387.4,233.9 387.5,234.7 387.9,237.9 388.3,238.8 388.7,240.6 388.9,242.8 389.1,242.8 389.5,247.2 389.9,249.6 390.3,253.4 390.4,254.7 390.7,253.3 391.1,255.1 391.5,256.7 391.9,255.9 391.9,254.7 392.3,257.7 392.7,257.9 393.1,260.0 393.4,257.6 393.5,258.4 393.9,252.6 394.3,251.1 394.7,247.1 394.8,245.8 395.1,244.7 395.5,244.0 395.9,242.5 396.3,243.1 396.3,244.3 396.7,243.8 397.1,247.3 397.5,248.8 397.8,248.7 397.9,247.9 398.3,248.6 398.7,250.7 399.1,251.2 399.3,254.7 399.5,252.2 399.9,251.0 400.3,248.6 400.7,246.7 400.8,247.3 401.1,247.8 401.5,250.0 401.9,251.6 402.3,251.3 402.3,250.2 402.7,252.9 403.1,252.7 403.5,254.5 403.7,254.7 403.9,253.1 404.3,252.6 404.7,249.6 405.1,247.6 405.2,248.7 405.5,247.4 405.9,247.5 406.3,245.2 406.7,244.6 406.7,245.8 407.1,246.9 407.5,248.9 407.9,249.7 408.2,251.7 408.3,251.0 408.7,249.3 409.1,249.3 409.5,247.7 409.7,245.8 409.9,244.9 410.3,242.6 410.7,243.6 411.1,245.0 411.2,244.3 411.5,245.1 411.9,246.2 412.3,245.6 412.6,245.8 412.7,244.2 413.1,244.4 413.5,243.2 413.9,242.7 414.1,241.3 414.3,244.0 414.7,252.1 415.1,259.1 415.3,263.6 415.5,262.4 415.9,258.4 416.3,254.7 416.4,254.7 416.7,252.8 417.1,253.2 417.5,251.6 417.8,250.2 417.9,249.4 418.3,247.4 418.7,245.9 419.1,247.0 419.3,245.8 419.5,244.7 419.9,245.4 420.3,247.6 420.7,249.6 420.8,248.7 421.1,249.4 421.5,250.4 421.9,251.1 422.3,251.8 422.3,250.2 422.7,251.9 423.1,253.9 423.5,253.9 423.8,253.2 423.9,255.5 424.3,253.7 424.7,255.1 425.1,253.7 425.3,254.7 425.5,252.4 425.9,253.0 426.3,251.6 426.7,251.7 426.7,251.7 427.1,253.8 427.5,259.2 427.9,261.8 428.2,263.6 428.3,262.1 428.7,260.0 429.1,258.2 429.5,254.3 429.7,253.2 429.9,253.4 430.3,254.9 430.7,254.3 431.1,252.9 431.2,251.7 431.5,253.2 431.9,255.8 432.3,256.0 432.7,255.5 432.7,259.1 433.1,259.1 433.5,261.6 433.9,266.9 434.2,268.0 434.3,268.8 434.7,268.4 435.1,268.5 435.5,270.6 435.6,271.0 435.9,269.8 436.3,269.4 436.7,269.4 437.1,269.4 437.1,269.5 437.5,272.4 437.9,275.4 438.3,279.5 438.7,283.3 438.7,280.8 439.1,283.4 439.5,289.1 439.9,291.0 440.1,291.0 440.3,293.6 440.7,293.2 441.1,294.6 441.5,295.8 441.9,297.0 442.1,297.1 442.3,298.9 442.7,300.2 443.1,299.8 443.5,301.0 443.9,303.1 444.2,303.3 444.3,304.5 444.7,304.1 445.1,304.1 445.5,304.5 445.9,303.9 446.2,305.3 446.3,303.4 446.7,305.1 447.1,303.6 447.5,303.0 447.9,301.4 448.3,302.3 448.3,301.2 448.7,303.6 449.1,302.2 449.5,302.3 449.9,301.1 450.3,303.0 450.3,301.2 450.7,303.9 451.1,303.0 451.5,305.1 451.9,305.6 452.3,306.4 452.3,305.3 452.7,307.0 453.1,306.7 453.5,307.1 453.9,308.9 454.3,309.4 454.4,309.4 454.7,309.3 455.1,312.6 455.5,312.4 455.9,312.3 456.3,312.6 456.4,313.5 456.7,312.5 457.1,311.4 457.5,309.1 457.9,307.6 458.3,303.5 458.5,303.3 458.7,303.2 459.1,304.4 459.5,306.1 459.9,308.0 460.3,307.0 460.5,309.4 460.7,312.5 461.1,312.1 461.5,313.9 461.9,316.0 462.3,317.9 462.6,317.6 462.7,319.1 463.1,317.3 463.5,319.1 463.9,322.6 464.3,323.5 464.6,325.7 464.7,324.7 465.1,325.2 465.5,330.0 465.9,332.8 466.2,333.9 466.3,332.7 466.7,330.8 467.1,328.7 467.5,325.6 467.7,325.7 467.9,323.4 468.3,321.3 468.7,319.1 469.1,317.2 469.5,313.7 469.7,311.4 469.9,310.4 470.3,308.8 470.7,305.9 471.1,302.8 471.5,302.7 471.7,301.2 471.9,299.7 472.3,297.2 472.7,295.1 473.1,291.0 473.5,289.3 473.8,287.0 473.9,287.2 474.3,285.2 474.7,283.8 475.1,281.2 475.5,277.6 475.8,278.8 475.9,277.2 476.3,276.7 476.7,278.0 477.1,277.8 477.5,276.7 477.9,276.6 477.9,276.7 478.3,277.6 478.7,277.7 479.1,276.8 479.5,276.2 479.9,275.0 479.9,274.7 480.3,271.7 480.7,269.2 481.1,265.7 481.5,262.8 481.5,262.4 481.9,259.9 482.3,257.1 482.7,254.8 483.0,256.3 483.1,254.5 483.5,256.8 483.9,257.8 484.3,256.2 484.7,254.8 485.0,256.5 485.1,256.7 485.5,258.0 485.9,257.2 486.3,259.7 486.7,260.4 486.9,260.4 487.1,262.8 487.5,264.0 487.9,266.0 488.3,267.2 488.7,267.4 488.7,267.8 489.1,268.6 489.5,269.3 489.9,271.7 490.3,271.7 490.6,273.4 490.7,271.7 491.1,274.2 491.5,276.3 491.9,278.0 492.3,279.0 492.4,277.1 492.7,273.0 493.1,267.6 493.5,262.5 493.9,258.1 493.9,258.6 494.3,253.3 494.7,251.7 495.1,249.7 495.2,249.3 495.5,248.5 495.9,249.5 496.3,251.3 496.7,251.3 497.1,252.4 497.1,251.1 497.5,255.7 497.9,258.1 498.3,260.8 498.7,262.8 498.9,264.1 499.1,264.7 499.5,262.0 499.9,259.6 500.3,259.1 500.7,256.6 500.8,256.7 501.1,257.8 501.5,260.0 501.9,260.8 502.3,261.8 502.6,262.3 502.7,264.2 503.1,267.5 503.5,268.5 503.9,270.7 504.3,276.0 504.5,277.1 504.7,279.0 505.1,279.1 505.4,282.7 505.5,280.3 505.9,280.7 506.3,279.5 506.7,279.9 507.1,279.4 507.3,279.0 507.5,281.1 507.9,283.0 508.3,287.4 508.7,292.6 509.1,294.1 509.1,293.8 509.5,294.1 509.9,293.2 510.3,291.8 510.7,289.8 511.0,288.2 511.1,286.2 511.5,280.8 511.9,277.3 511.9,277.1 512.3,285.0 512.7,292.6 513.1,299.6 513.2,299.4 513.5,300.9 513.9,299.0 514.3,297.1 514.7,297.3 514.7,297.5 515.1,296.3 515.5,294.5 515.9,291.2 516.3,289.8 516.5,290.1 516.7,288.5 517.1,290.4 517.5,290.6 517.9,292.0 518.3,293.5 518.4,293.8 518.7,295.8 519.1,299.6 519.5,300.2 519.9,300.7 520.2,304.9 520.3,304.5 520.7,305.3 521.1,305.3 521.5,303.7 521.9,302.8 522.1,301.2 522.3,301.2 522.7,298.0 523.1,296.3 523.5,295.8 523.9,293.7 524.0,293.8 524.3,299.2 524.7,301.8 524.9,304.9 525.1,305.6 525.5,310.0 525.9,311.9 526.2,314.2 526.3,313.7 526.7,315.6 527.1,318.6 527.3,321.6 527.5,323.7 527.9,326.7 528.3,329.7 528.6,330.9" fill="none" stroke="#141414" stroke-width="2.8" stroke-linejoin="round"/>
<text x="175.6" y="45.5" font-size="25.2" font-weight="bold">Ten-year Bond Yields</text>
<text x="55.5" y="71" font-size="19" text-anchor="end">%</text>
<text x="550.5" y="71" font-size="19">%</text>
<text class="n" x="55.3" y="128.4" font-size="19" text-anchor="end">8</text>
<text class="n" x="550.6" y="128.4" font-size="19">8</text>
<text class="n" x="55.3" y="197.9" font-size="19" text-anchor="end">7</text>
<text class="n" x="550.6" y="197.9" font-size="19">7</text>
<text class="n" x="55.3" y="267.4" font-size="19" text-anchor="end">6</text>
<text class="n" x="550.6" y="267.4" font-size="19">6</text>
<text class="n" x="55.3" y="336.9" font-size="19" text-anchor="end">5</text>
<text class="n" x="550.6" y="336.9" font-size="19">5</text>
<text class="n" x="55.3" y="406.4" font-size="19" text-anchor="end">4</text>
<text class="n" x="550.6" y="406.4" font-size="19">4</text>
<text class="n" x="55.3" y="475.9" font-size="19" text-anchor="end">3</text>
<text class="n" x="550.6" y="475.9" font-size="19">3</text>
<text class="n" x="111.3" y="498" font-size="19" text-anchor="middle">1997</text>
<text class="n" x="206.9" y="498" font-size="19" text-anchor="middle">1998</text>
<text class="n" x="302.5" y="498" font-size="19" text-anchor="middle">1999</text>
<text class="n" x="398.1" y="498" font-size="19" text-anchor="middle">2000</text>
<text class="n" x="493.7" y="498" font-size="19" text-anchor="middle">2001</text>
<text x="138.6" y="224.3" font-size="19" font-weight="bold" letter-spacing="-0.3">Australia</text>
<text x="247.8" y="392" font-size="19" font-weight="bold">US</text>
<text x="62.3" y="524.5" font-size="15.7" font-weight="bold">Sources: Bloomberg; RBA</text>
</svg>
</body></html>
